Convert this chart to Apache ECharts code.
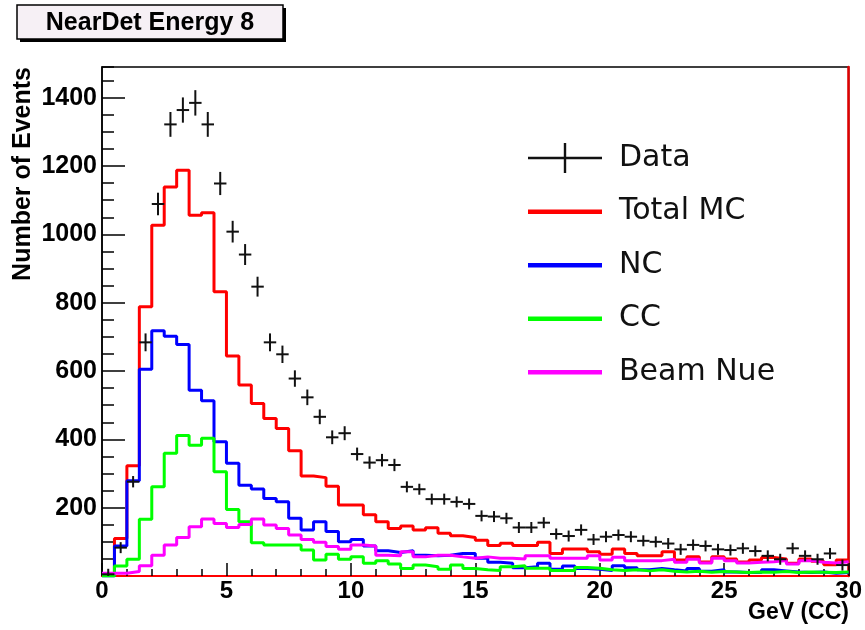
<!DOCTYPE html>
<html>
<head>
<meta charset="utf-8">
<script src="https://cdn.jsdelivr.net/npm/echarts@6/dist/echarts.min.js"></script>
<style>
    html, body {margin: 0; padding: 0; background: #fff;}
    #energy {width: 865px; height: 630px;}
</style>
</head>
<body>
<div id="energy"></div>
<script>
// 60 bins of 0.5 GeV from 0 to 30
var BIN_WIDTH = 0.5;

var data_events = [5, 83, 276, 684, 1089, 1322, 1364, 1385, 1322, 1149,
    1008, 941, 847, 684, 649, 578, 523, 466, 406, 418,
    357, 332, 339, 325, 261, 254, 225, 225, 217, 211,
    176, 174, 169, 142, 142, 156, 123, 117, 135, 107,
    115, 120, 115, 103, 100, 95, 78, 91, 88, 78,
    76, 81, 73, 59, 49, 81, 59, 49, 66, 32];

var total_mc = [5, 110, 323, 788, 1027, 1139, 1188, 1056, 1063, 832,
    644, 559, 505, 461, 432, 367, 293, 288, 263, 208,
    208, 179, 159, 139, 146, 135, 141, 125, 118, 113,
    105, 89, 96, 89, 89, 99, 66, 79, 79, 71,
    64, 79, 66, 59, 59, 71, 47, 56, 41, 56,
    50, 41, 47, 54, 50, 37, 50, 43, 33, 47];

var nc = [0, 88, 279, 605, 718, 702, 678, 544, 513, 393,
    330, 266, 255, 227, 217, 169, 135, 159, 130, 100,
    107, 88, 74, 69, 74, 61, 59, 61, 66, 66,
    52, 40, 37, 24, 27, 37, 20, 29, 22, 20,
    16, 30, 24, 18, 22, 18, 15, 22, 14, 18,
    12, 10, 10, 18, 15, 12, 10, 12, 8, 10];

var cc = [0, 29, 49, 166, 261, 359, 411, 383, 403, 305,
    195, 159, 97, 91, 91, 91, 76, 47, 64, 49,
    56, 37, 45, 35, 22, 32, 27, 20, 32, 22,
    18, 16, 27, 30, 23, 23, 16, 16, 25, 23,
    18, 16, 18, 15, 18, 14, 12, 14, 11, 13,
    12, 10, 12, 11, 13, 10, 12, 11, 10, 12];

var beam_nue = [8, 8, 13, 30, 61, 91, 113, 144, 167, 154,
    142, 151, 167, 149, 139, 120, 107, 99, 86, 78,
    91, 88, 61, 59, 71, 56, 61, 61, 56, 52,
    56, 52, 52, 50, 59, 59, 52, 52, 52, 59,
    47, 55, 45, 45, 45, 49, 40, 49, 38, 52,
    45, 38, 40, 42, 45, 35, 45, 40, 38, 42];

var x_ticks = [0, 5, 10, 15, 20, 25, 30];
var y_max = 1490;

// histogram outline: point at each bin's low edge, plus the last high edge
function hist_points(values) {
    var pts = [];
    for (var i = 0; i < values.length; i++) {
        pts.push([i * BIN_WIDTH, values[i]]);
    }
    pts.push([values.length * BIN_WIDTH, values[values.length - 1]]);
    return pts;
}

function data_points(values) {
    var pts = [];
    for (var i = 0; i < values.length; i++) {
        pts.push([(i + 0.5) * BIN_WIDTH, values[i]]);
    }
    return pts;
}

// legend icons drawn in a 74x30 box (tiny corner squares keep the box size)
var corners = 'M0,0h0.01v0.01h-0.01z M73.99,29.99h0.01v0.01h-0.01z ';
var bar_icon = 'path://' + corners + 'M0,13h74v4.5h-74z';
var cross_icon = 'path://' + corners + 'M0,13.8h74v2.4h-74z M35.8,0h2.4v30h-2.4z';

var energy_chart = echarts.init(document.getElementById('energy'));

function hist_series(name, color, values) {
    return {
        name: name,
        type: 'line',
        step: 'end',
        showSymbol: false,
        symbol: 'none',
        color: color,
        lineStyle: {color: color, width: 3},
        data: hist_points(values)
    };
}

energy_chart.setOption({
    animation: false,
    backgroundColor: '#fff',
    grid: {
        left: 102, right: 14, top: 67, bottom: 54,
        show: true, borderColor: '#000', borderWidth: 1.5, backgroundColor: '#fff'
    },
    legend: {
        orient: 'vertical',
        left: 523,
        top: 138,
        itemWidth: 74,
        itemHeight: 30,
        itemGap: 23.5,
        selectedMode: false,
        textStyle: {
            fontFamily: 'DejaVu Sans',
            fontSize: 30,
            color: '#111',
            padding: [0, 0, 0, 12]
        },
        data: [
            {name: 'Data', icon: cross_icon},
            {name: 'Total MC', icon: bar_icon},
            {name: 'NC', icon: bar_icon},
            {name: 'CC', icon: bar_icon},
            {name: 'Beam Nue', icon: bar_icon}
        ]
    },
    xAxis: {
        type: 'value',
        min: x_ticks[0],
        max: x_ticks[x_ticks.length - 1],
        interval: 5,
        axisLine: {show: true, lineStyle: {color: '#ff0000', width: 2}},
        axisTick: {show: true, inside: true, length: 13, lineStyle: {color: '#000', width: 1.5}},
        minorTick: {show: true, splitNumber: 5, length: 7, lineStyle: {color: '#000', width: 1.5}},
        axisLabel: {
            fontFamily: 'Liberation Sans', fontWeight: 'bold', fontSize: 24,
            color: '#000', margin: 3,
            formatter: function (v) { return String(v); }
        },
        splitLine: {show: false}
    },
    yAxis: [
        {
            type: 'value',
            min: 0,
            max: y_max,
            interval: 200,
            axisLine: {show: true, lineStyle: {color: '#000', width: 1.5}},
            axisTick: {show: true, inside: true, length: 23, lineStyle: {color: '#000', width: 1.5}},
            axisLabel: {
                fontFamily: 'Liberation Sans', fontWeight: 'bold', fontSize: 25,
                color: '#000', margin: 5, showMinLabel: false, showMaxLabel: false,
                formatter: function (v) { return String(v); }
            },
            splitLine: {show: false}
        },
        {
            type: 'value',
            min: 0,
            max: y_max,
            interval: 50,
            position: 'left',
            axisLine: {show: false},
            axisTick: {show: true, inside: true, length: 12, lineStyle: {color: '#000', width: 1.5}},
            axisLabel: {show: false},
            splitLine: {show: false}
        },
        {
            type: 'value',
            min: 0,
            max: y_max,
            position: 'right',
            axisLine: {show: true, lineStyle: {color: '#e00000', width: 2.5}},
            axisTick: {show: false},
            axisLabel: {show: false},
            splitLine: {show: false}
        }
    ],
    graphic: [
        {type: 'rect', shape: {x: 20, y: 8, width: 266, height: 34}, style: {fill: '#000'}},
        {
            type: 'rect', shape: {x: 17, y: 5, width: 266, height: 34},
            style: {fill: '#f6f0f5', stroke: '#000', lineWidth: 1.5}
        },
        {
            type: 'text', x: 150, y: 23,
            style: {
                text: 'NearDet Energy 8', fill: '#000', align: 'center', verticalAlign: 'middle',
                font: 'bold 25px "Liberation Sans"'
            }
        },
        {
            type: 'text', x: 23, y: 67, rotation: Math.PI / 2,
            style: {
                text: 'Number of Events', fill: '#000', align: 'right', verticalAlign: 'middle',
                font: 'bold 25px "Liberation Sans"'
            }
        },
        {
            type: 'text', x: 849, y: 613,
            style: {
                text: 'GeV (CC)', fill: '#000', align: 'right', verticalAlign: 'middle',
                font: 'bold 23px "Liberation Sans"'
            }
        }
    ],
    series: [
        hist_series('Total MC', '#ff0000', total_mc),
        hist_series('NC', '#0000ff', nc),
        hist_series('CC', '#00ff00', cc),
        hist_series('Beam Nue', '#ff00ff', beam_nue),
        {
            name: 'Data',
            type: 'custom',
            z: 5,
            itemStyle: {color: '#111'},
            renderItem: function (params, api) {
                var x = api.value(0);
                var y = api.value(1);
                var c = api.coord([x, y]);
                var half_w = api.size([BIN_WIDTH, 0])[0] / 2;
                var err = Math.sqrt(y);
                var top = Math.min(api.coord([x, y + err])[1], c[1] - 5.5);
                var bot = Math.max(api.coord([x, Math.max(y - err, 0)])[1], c[1] + 5.5);
                bot = Math.min(bot, api.coord([x, 0])[1]);
                var st = {stroke: '#111', lineWidth: 2};
                return {
                    type: 'group',
                    children: [
                        {type: 'line', shape: {x1: c[0] - half_w, y1: c[1], x2: c[0] + half_w, y2: c[1]}, style: st},
                        {type: 'line', shape: {x1: c[0], y1: top, x2: c[0], y2: bot}, style: st}
                    ]
                };
            },
            data: data_points(data_events)
        }
    ]
});
</script>
</body>
</html>
